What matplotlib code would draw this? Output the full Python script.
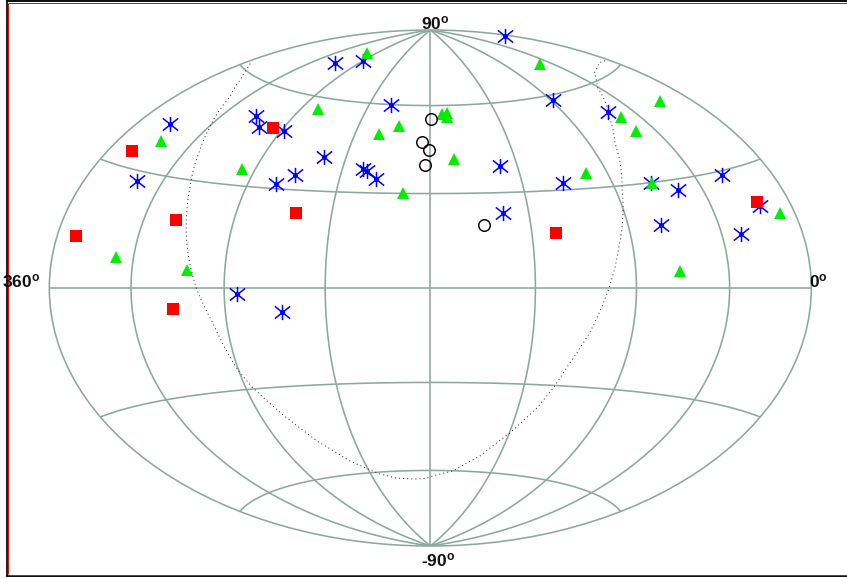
import numpy as np
import matplotlib
matplotlib.use("Agg")
import matplotlib.pyplot as plt
from matplotlib.lines import Line2D
from matplotlib.path import Path

plt.rcParams["font.family"] = ["Liberation Sans", "DejaVu Sans"]
plt.rcParams["mathtext.default"] = "regular"

# sky positions in degrees, right ascension runs 360 (left) to 0 (right)
star_ra = [339.8, 329.2, 293.8, 285.1, 268.2, 255.8, 248.1, 293.8, 269.5, 4.4, 88.3, 209.0, 236.9, 214.4,
           212.1, 206.9, 144.0, 114.8, 61.3, 70.2, 58.2, 29.4, 74.1, 34.9, 18.4, 146.9, 264.1, 244.3]
star_dec = [42.5, 27.4, 50.7, 47.8, 47.8, 31.4, 34.6, 71.1, 74.1, 78.6, 58.4, 59.9, 40.9, 37.7,
            37.1, 34.5, 38.6, 32.2, 51.5, 29.9, 27.0, 29.0, 17.8, 13.8, 19.9, 23.5, -1.8, -7.2]
tri_ra = [334.2, 277.0, 282.4, 55.5, 258.5, 199.7, 210.7, 172.0, 168.5, 168.8, 167.4, 193.0, 19.8, 56.9,
          56.9, 101.0, 69.7, 69.2, 8.8, 324.1, 287.7]
tri_dec = [38.2, 35.0, 76.8, 69.5, 56.1, 52.6, 49.6, 56.9, 57.3, 55.8, 41.4, 30.1, 49.8, 49.3,
           44.7, 34.7, 29.9, 4.7, 17.5, 7.9, 5.0]
sq_ra = [345.5, 276.2, 298.4, 348.9, 294.6, 241.6, 124.2, 18.9]
sq_dec = [33.9, 48.2, 18.7, 12.2, -5.8, 22.9, 16.8, 21.0]
circ_ra = [179.5, 184.8, 180.7, 182.7, 156.0]
circ_dec = [55.2, 47.2, 44.4, 39.4, 19.8]
# dotted great circle
plane_ra = [360.0, 352.1, 338.9, 325.8, 314.2, 307.2, 299.8, 294.7, 288.3, 282.6, 276.4, 270.3, 266.4, 257.7, 247.1,
            234.2, 219.9, 207.9, 193.9, 184.2, 177.9, 163.2, 147.5, 134.6, 125.2, 120.3, 116.8, 109.5, 102.5, 96.5,
            89.0, 86.8, 82.0, 75.2, 64.2, 45.6, 29.8, 11.0, 1.0]
plane_dec = [62.1, 61.0, 58.0, 53.4, 44.8, 38.4, 29.5, 21.7, 9.8, -0.6, -10.1, -24.1, -29.7, -38.6, -47.8,
             -55.4, -60.3, -62.4, -63.1, -63.0, -62.0, -60.1, -54.4, -46.0, -37.4, -30.5, -24.1, -13.2, 0.0, 12.1,
             24.9, 28.7, 34.6, 42.6, 50.1, 58.6, 61.9, 63.0, 62.3]

W, H = 847, 578
GRID = "#8ea8a1"
# vertical bar and two diagonals, like the old plotting-package asterisk
ASTERISK = Path([(0, -1), (0, 1), (-1, -0.8), (1, 0.8), (-1, 0.8), (1, -0.8)],
                [Path.MOVETO, Path.LINETO] * 3)


def sky(ra, dec):
    return np.radians(180.0 - np.array(ra)), np.radians(np.array(dec))


fig = plt.figure(figsize=(W / 100, H / 100), dpi=100, facecolor="white")
ax = fig.add_axes([49.3 / W, 1 - 546 / H, 762 / W, 516 / H], projection="hammer")
ax.set_aspect("auto")
ax.set_longitude_grid(45)
ax.set_latitude_grid(30)
ax.set_longitude_grid_ends(90)
ax.set_xticklabels([])
ax.set_yticklabels([])
ax.tick_params(length=0)
ax.grid(True, color=GRID, linewidth=1.15, linestyle="-")
for sp in ax.spines.values():
    sp.set_edgecolor(GRID)
    sp.set_linewidth(1.15)

x, y = sky(plane_ra, plane_dec)
ax.plot(x, y, color="#222222", lw=0.7, ls=(0, (1, 3.2)), zorder=2)

x, y = sky(star_ra, star_dec)
ax.plot(x, y, ls="none", marker=ASTERISK, ms=11, mew=1.1, mfc="none", color="#0000ff", zorder=3, clip_on=False)
ax.plot(x, y, ls="none", marker="o", ms=3.6, mew=0, color="#0000ff", zorder=3, clip_on=False)

x, y = sky(tri_ra, tri_dec)
ax.plot(x, y, ls="none", marker="^", ms=8.2, mew=0, color="#00ee00", zorder=4, clip_on=False)

x, y = sky(sq_ra, sq_dec)
ax.plot(x, y, ls="none", marker="s", ms=8, mew=0, color="#ff0000", zorder=5, clip_on=False)

x, y = sky(circ_ra, circ_dec)
ax.plot(x, y, ls="none", marker="o", ms=8.3, mew=1.05, mfc="none", mec="black", zorder=6, clip_on=False)

# labels sit outside the map
for label, px, py in [(r"90$^{o}$", 435, 23), (r"-90$^{o}$", 438, 560), (r"360$^{o}$", 21.5, 281), (r"0$^{o}$", 818, 281)]:
    fig.text(px / W, 1 - py / H, label, fontsize=12.5, fontweight="bold", ha="center", va="center", color="#111111")

# frame round the figure, no right side
for xs, ys, col, lw in [
    ([6.5, 6.5], [0, 577], "#222222", 2.0),
    ([8, 8], [3, 574], "#e01010", 1.0),
    ([6, W], [1, 1], "#111111", 2.0),
    ([8, W], [3, 3], "#e01010", 1.0),
    ([6, W], [576, 576], "#111111", 2.0),
    ([8, W], [574.5, 574.5], "#e01010", 1.0),
]:
    fig.add_artist(Line2D(np.array(xs) / W, 1 - np.array(ys) / H, color=col, lw=lw * 0.72, solid_capstyle="butt"))

fig.savefig("out.png", dpi=100, facecolor="white")
